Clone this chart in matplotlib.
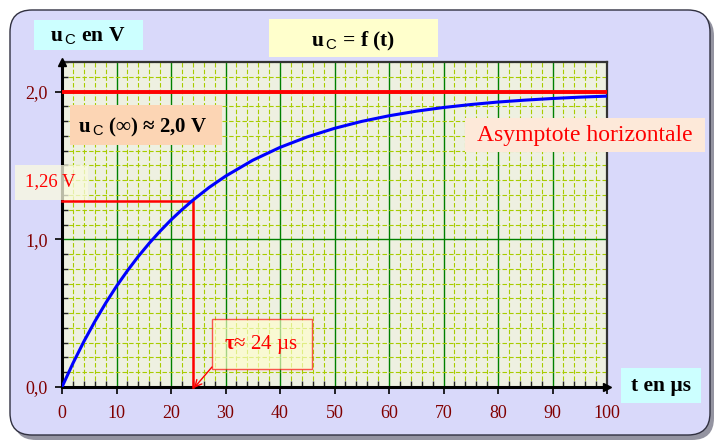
import matplotlib
matplotlib.use("Agg")
import matplotlib.pyplot as plt
from matplotlib.patches import FancyBboxPatch, Rectangle
from matplotlib.ticker import MultipleLocator, FixedLocator

plt.rcParams['mathtext.fontset'] = 'custom'
plt.rcParams['mathtext.rm'] = 'Liberation Serif'
plt.rcParams['mathtext.bf'] = 'Liberation Serif:bold'
plt.rcParams['mathtext.sf'] = 'Liberation Sans'
plt.rcParams['font.family'] = ['Liberation Serif', 'DejaVu Serif']

# ---- data ----
t_us = [0, 2, 4, 6, 8, 10, 12, 14, 16, 18, 20, 22, 24, 27, 30, 35, 40, 45, 50,
        55, 60, 65, 70, 75, 80, 85, 90, 95, 100]
u_c = [0.000, 0.160, 0.307, 0.442, 0.567, 0.682, 0.787, 0.884, 0.973, 1.055,
       1.131, 1.200, 1.264, 1.351, 1.427, 1.535, 1.622, 1.693, 1.751, 1.798,
       1.836, 1.867, 1.892, 1.912, 1.929, 1.942, 1.953, 1.962, 1.969]
u_inf = 2.0
tau = 24
u_tau = 1.26
x_ticks = [0, 10, 20, 30, 40, 50, 60, 70, 80, 90, 100]
x_ticklabels = ['0', '10', '20', '30', '40', '50', '60', '70', '80', '90', '100']
y_ticks = [0.0, 1.0, 2.0]
y_ticklabels = ['0,0', '1,0', '2,0']

W, H = 725, 447
fig = plt.figure(figsize=(W / 100, H / 100), dpi=100)
fig.patch.set_facecolor('white')

# background panel (pixel coordinates)
bg = fig.add_axes([0, 0, 1, 1], zorder=0)
bg.set_xlim(0, W); bg.set_ylim(H, 0); bg.axis('off')
shadow = FancyBboxPatch((14, 14), 700, 426, boxstyle="round,pad=0,rounding_size=22",
                        facecolor='#7a7a8a', edgecolor='none', alpha=0.8)
bg.add_patch(shadow)
panel = FancyBboxPatch((10, 10), 700, 425, boxstyle="round,pad=0,rounding_size=22",
                       facecolor='#d9d9fa', edgecolor='#303040', linewidth=1.0)
bg.add_patch(panel)

# main plot
ax = fig.add_axes([62 / W, (H - 387) / H, (607 - 62) / W, (387 - 62) / H], zorder=1)
ax.set_facecolor('#eef0e1')
ax.set_xlim(0, 100)
ax.set_ylim(0, 2.2)

ax.xaxis.set_major_locator(FixedLocator(x_ticks))
ax.xaxis.set_minor_locator(MultipleLocator(2))
ax.yaxis.set_major_locator(FixedLocator(y_ticks))
ax.yaxis.set_minor_locator(MultipleLocator(0.1))
ax.set_xticklabels(x_ticklabels)
ax.set_yticklabels(y_ticklabels)

ax.grid(which='minor', color='#a8cc00', linestyle=(0, (4, 2)), linewidth=0.8)
ax.grid(which='major', color='#008000', linestyle='-', linewidth=1.0)
ax.set_axisbelow(True)

ax.tick_params(which='major', direction='out', length=5, width=1.2, color='black',
               labelsize=13, labelcolor='#800000')
ax.tick_params(axis='x', which='major', pad=8)
ax.tick_params(axis='y', which='major', pad=5)
ax.tick_params(which='minor', direction='in', length=4, width=1.0, color='#222222')

for s in ['left', 'bottom']:
    ax.spines[s].set_linewidth(2.2)
    ax.spines[s].set_color('black')
for s in ['top', 'right']:
    ax.spines[s].set_linewidth(1.6)
    ax.spines[s].set_color('#333333')

# axis arrows
ax.plot([0], [1], marker='^', color='black', markersize=6, transform=ax.transAxes,
        clip_on=False, zorder=5)
ax.plot([1], [0], marker='>', color='black', markersize=6, transform=ax.transAxes,
        clip_on=False, zorder=5)

# asymptote
ax.plot([0, 100], [u_inf, u_inf], color='#ff0000', linewidth=2.8, zorder=3)
# tau construction
ax.plot([0, tau, tau], [u_tau, u_tau, 0], color='#ff0000', linewidth=1.8, zorder=3,
        clip_on=False)
# curve
ax.plot(t_us, u_c, color='#0000ff', linewidth=2.2, zorder=4)

# overlay for text boxes (pixel coordinates)
ov = fig.add_axes([0, 0, 1, 1], zorder=2)
ov.set_xlim(0, W); ov.set_ylim(H, 0); ov.axis('off')
ov.patch.set_alpha(0)


def box(x0, y0, x1, y1, fc, alpha=1.0, ec='none', lw=0):
    ov.add_patch(Rectangle((x0, y0), x1 - x0, y1 - y0, facecolor=fc, alpha=alpha,
                           edgecolor=ec, linewidth=lw))


UC = r'$\mathbf{u}_{\,\mathsf{C}}$'

box(34, 20, 143, 50, '#ccffff')
ov.text(88, 36, UC + ' en V', ha='center', va='center',
        fontsize=15.5, fontweight='bold', color='black')

box(269, 19, 438, 57, '#ffffcc')
ov.text(353, 41, UC + ' = f (t)', ha='center', va='center',
        fontsize=15.5, fontweight='bold', color='black')

box(70, 105, 222, 145, '#fcd5b4')
ov.text(143, 127, UC + ' (∞) ≈ 2,0 V', ha='center', va='center',
        fontsize=15, fontweight='bold', color='black')

box(465, 118, 705, 152, '#fde9d9')
ov.text(585, 136, 'Asymptote horizontale', ha='center', va='center',
        fontsize=17, color='#ff0000')

box(15, 165, 88, 200, '#fbfbe0', alpha=0.75)
ov.text(50, 182, '1,26 V', ha='center', va='center', fontsize=13.5, color='#ff0000')

box(212, 319, 312, 369, '#ffffcc', alpha=0.65, ec='#ff0000', lw=1.0)
ov.text(261, 344, r'$\mathbf{τ}$≈ 24 µs', ha='center', va='center',
        fontsize=15, color='#ff0000')
ov.annotate('', xy=(194, 388), xytext=(212, 367),
            arrowprops=dict(arrowstyle='->', color='#ff0000', lw=1.0,
                            shrinkA=0, shrinkB=0, mutation_scale=12))

box(621, 368, 701, 403, '#ccffff')
ov.text(661, 386, 't en µs', ha='center', va='center', fontsize=15.5,
        fontweight='bold', color='black')

fig.savefig('out.png', dpi=100)
